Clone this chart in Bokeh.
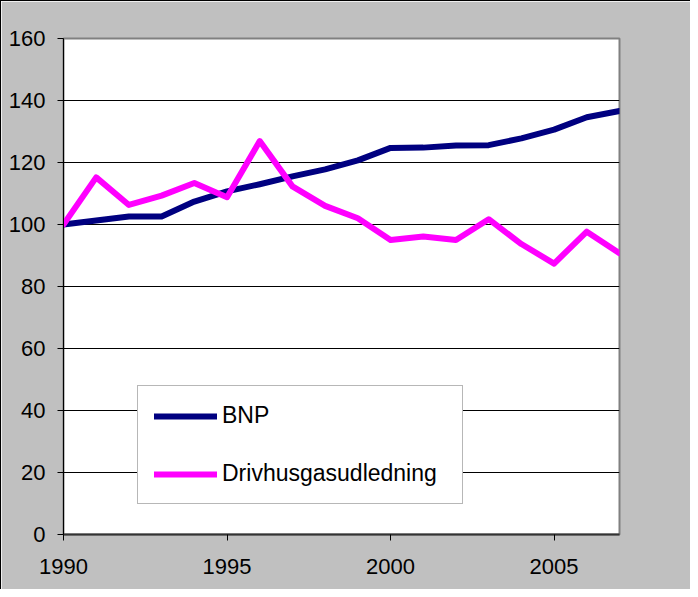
from bokeh.plotting import figure
from bokeh.models import Range1d, FixedTicker, Legend, LegendItem
from bokeh.embed import file_html
from bokeh.resources import INLINE

years = list(range(1990, 2008))
bnp = [100, 101.3, 102.6, 102.6, 107.4, 110.7, 113.0, 115.5, 117.8, 120.7,
       124.7, 124.8, 125.5, 125.6, 127.8, 130.6, 134.6, 136.6]
drivhus = [100, 115.2, 106.3, 109.3, 113.4, 108.8, 126.9, 112.3, 106.0, 102.0,
           95.0, 96.1, 95.0, 101.7, 93.7, 87.4, 97.7, 90.7]
series_names = ["BNP", "Drivhusgasudledning"]
x_ticks = [1990, 1995, 2000, 2005]
y_ticks = [0, 20, 40, 60, 80, 100, 120, 140, 160]

FONT = "Liberation Sans"

p = figure(width=690, height=589, output_backend="svg", toolbar_location=None,
           x_range=Range1d(1990, 2007), y_range=Range1d(0, 160),
           min_border_left=62, min_border_top=37, min_border_right=72,
           min_border_bottom=56)
p.styles = {"border-left": "1px solid black", "border-top": "1px solid black"}
p.border_fill_color = "#C0C0C0"
p.background_fill_color = "white"
p.outline_line_color = "#808080"
p.outline_line_width = 2

p.xgrid.grid_line_color = None
p.ygrid.grid_line_color = "black"
p.ygrid.grid_line_width = 1
p.ygrid.ticker = FixedTicker(ticks=y_ticks)

p.xaxis.ticker = FixedTicker(ticks=x_ticks)
p.yaxis.ticker = FixedTicker(ticks=y_ticks)
for ax in (p.xaxis[0], p.yaxis[0]):
    ax.major_label_text_font = FONT
    ax.major_label_text_font_size = "22px"
    ax.major_label_text_color = "black"
    ax.major_tick_out = 6
    ax.major_tick_in = 0
    ax.minor_tick_out = 0
    ax.minor_tick_in = 0
    ax.major_tick_line_color = "black"
p.xaxis.axis_line_color = "#333333"
p.xaxis.axis_line_width = 2
p.yaxis.axis_line_color = "black"
p.yaxis.axis_line_width = 1
p.xaxis.major_label_standoff = 18
p.yaxis.major_label_standoff = 12

r1 = p.line(years, bnp, line_color="#000080", line_width=6,
            line_cap="round", line_join="round")
r2 = p.line(years, drivhus, line_color="#FF00FF", line_width=6,
            line_cap="round", line_join="round")

legend = Legend(items=[LegendItem(label=series_names[0], renderers=[r1]),
                       LegendItem(label=series_names[1], renderers=[r2])],
                location=(74, 30), orientation="vertical")
legend.label_text_font = FONT
legend.label_text_font_size = "23px"
legend.label_text_color = "black"
legend.glyph_width = 63
legend.glyph_height = 26
legend.label_height = 26
legend.label_standoff = 5
legend.padding = 16
legend.spacing = 31
legend.margin = 0
legend.label_width = 224
legend.border_line_color = "#707070"
legend.border_line_width = 1
legend.background_fill_color = "white"
legend.background_fill_alpha = 1
p.add_layout(legend, "center")

open("out.html", "w").write(file_html(p, INLINE))
